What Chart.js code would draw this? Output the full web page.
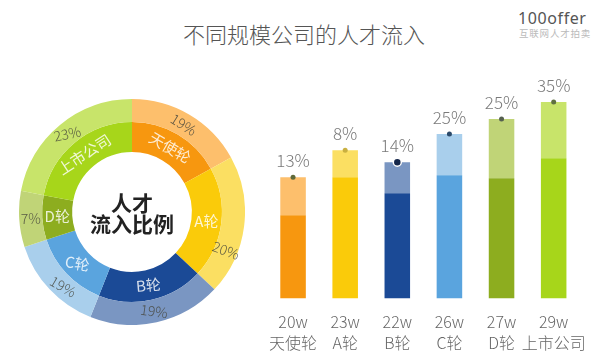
<!DOCTYPE html>
<html><head><meta charset="utf-8">
<script src="https://cdn.jsdelivr.net/npm/chart.js@4.4.1/dist/chart.umd.min.js"></script>
<style>
html,body{margin:0;padding:0;background:#fff;width:600px;height:360px;overflow:hidden;font-family:"Noto Sans CJK SC",sans-serif;}
#title{position:absolute;left:0;width:608px;top:20px;text-align:center;font-size:22px;color:#555;font-weight:300;line-height:26px;white-space:nowrap;}
#logo{position:absolute;left:518px;top:9px;font-family:"Noto Sans",sans-serif;font-size:16px;color:#555;letter-spacing:0.6px;line-height:19px;}
#logosub{position:absolute;left:519px;top:28px;font-size:9.5px;color:#bbb;letter-spacing:0.8px;line-height:11px;white-space:nowrap;}
canvas{position:absolute;}
#pie{left:19px;top:99px;}
#bar{left:255px;top:60px;}
</style></head>
<body>
<div id="title">不同规模公司的人才流入</div>
<div id="logo">100offer</div>
<div id="logosub">互联网人才拍卖</div>
<canvas id="pie" width="226" height="226"></canvas>
<canvas id="bar" width="345" height="313"></canvas>
<script>
// ---- data ----
const categories = ['天使轮', 'A轮', 'B轮', 'C轮', 'D轮', '上市公司'];
const shareValues = [17, 20, 19, 14, 8, 22];          // arc sizes as drawn
const shareLabels = ['19%', '20%', '19%', '19%', '7%', '23%'];
const salaryLabels = ['20w', '23w', '22w', '26w', '27w', '29w'];
const barBase = [83, 121, 105, 123, 120, 140];         // dark lower part
const barTop = [38, 27, 31, 41, 59, 56];               // light upper part
const growthLabels = ['13%', '8%', '14%', '25%', '25%', '35%'];

// ---- styles ----
const darkColors = ['#F7970F', '#FACB0A', '#1B4A96', '#5AA4DE', '#8DAD1F', '#A7D61A'];
const lightColors = ['#FDBF6C', '#FBDF62', '#7A96C2', '#A9CFEC', '#C0D477', '#C8E46A'];
const dotColors = ['#5f6a3a', '#c9b040', '#14264a', '#2b4a6a', '#556050', '#5f7040'];
const dotRadius = [2.5, 2.5, 4, 2.5, 2.5, 2.5];
const pctRotDeg = [32, 20, 8, 30, 0, -12];
const pctAngleShiftDeg = [0, 15, 0, -4, 0, 0];
const nameRotDeg = [30, 0, -5, 10, 0, -33];
const CJK = '"Noto Sans CJK SC", sans-serif';
const D = Math.PI / 180;

const pieLabels = {
  id: 'pieLabels',
  afterDatasetsDraw(chart) {
    const ctx = chart.ctx;
    ctx.save();
    ctx.textAlign = 'center';
    ctx.textBaseline = 'middle';
    // outer ring percentages
    chart.getDatasetMeta(0).data.forEach((arc, i) => {
      const mid = (arc.startAngle + arc.endAngle) / 2 + pctAngleShiftDeg[i] * D;
      const r = (arc.innerRadius + arc.outerRadius) / 2;
      ctx.save();
      ctx.translate(arc.x + Math.cos(mid) * r, arc.y + Math.sin(mid) * r);
      ctx.rotate(pctRotDeg[i] * D);
      ctx.font = '300 14px ' + CJK;
      ctx.fillStyle = 'rgba(70,70,60,0.85)';
      ctx.fillText(shareLabels[i], 0, 0);
      ctx.restore();
    });
    // inner ring names
    chart.getDatasetMeta(1).data.forEach((arc, i) => {
      const mid = (arc.startAngle + arc.endAngle) / 2;
      const r = (arc.innerRadius + arc.outerRadius) / 2;
      ctx.save();
      ctx.translate(arc.x + Math.cos(mid) * r, arc.y + Math.sin(mid) * r);
      ctx.rotate(nameRotDeg[i] * D);
      ctx.font = '400 15px ' + CJK;
      ctx.fillStyle = 'rgba(255,255,255,0.82)';
      ctx.fillText(categories[i], 0, 0);
      ctx.restore();
    });
    const a = chart.getDatasetMeta(0).data[0];
    ctx.font = '700 21px ' + CJK;
    ctx.fillStyle = '#222';
    ctx.fillText('人才', a.x, a.y - 9);
    ctx.fillText('流入比例', a.x, a.y + 12);
    ctx.restore();
  }
};

new Chart(document.getElementById('pie'), {
  type: 'doughnut',
  data: {
    labels: categories,
    datasets: [
      { data: shareValues, backgroundColor: lightColors, borderWidth: 0, weight: 23 },
      { data: shareValues, backgroundColor: darkColors, borderWidth: 0, weight: 30 }
    ]
  },
  options: {
    responsive: false,
    animation: false,
    events: [],
    cutout: '53%',
    layout: { padding: 0 },
    plugins: { legend: { display: false }, tooltip: { enabled: false } }
  },
  plugins: [pieLabels]
});

const barLabels = {
  id: 'barLabels',
  afterDatasetsDraw(chart) {
    const ctx = chart.ctx;
    ctx.save();
    ctx.textAlign = 'center';
    ctx.textBaseline = 'middle';
    chart.getDatasetMeta(1).data.forEach((bar, i) => {
      ctx.font = '300 17px ' + CJK;
      ctx.fillStyle = '#7a7a7a';
      ctx.fillText(growthLabels[i], bar.x, bar.y - 17);
      ctx.beginPath();
      ctx.arc(bar.x, bar.y, dotRadius[i], 0, Math.PI * 2);
      ctx.fillStyle = dotColors[i];
      ctx.fill();
      if (dotRadius[i] > 3) {
        ctx.lineWidth = 1.5;
        ctx.strokeStyle = '#fff';
        ctx.stroke();
      }
    });
    ctx.restore();
  }
};

new Chart(document.getElementById('bar'), {
  type: 'bar',
  data: {
    labels: categories.map((c, i) => [salaryLabels[i], c]),
    datasets: [
      { data: barBase, backgroundColor: darkColors, stack: 's', borderWidth: 0, barPercentage: 0.49, categoryPercentage: 1 },
      { data: barTop, backgroundColor: lightColors, stack: 's', borderWidth: 0, barPercentage: 0.49, categoryPercentage: 1 }
    ]
  },
  options: {
    responsive: false,
    animation: false,
    events: [],
    layout: { padding: { left: 12, right: 16, top: 0, bottom: 7 } },
    plugins: { legend: { display: false }, tooltip: { enabled: false } },
    scales: {
      x: {
        stacked: true,
        grid: { display: false, drawTicks: false },
        border: { display: false },
        ticks: { color: '#666', padding: 13, maxRotation: 0, autoSkip: false,
                 font: { family: CJK, size: 16, weight: 300, lineHeight: 1.3 } }
      },
      y: { stacked: true, display: false, min: 0, max: 238 }
    }
  },
  plugins: [barLabels]
});
</script>
</body></html>
